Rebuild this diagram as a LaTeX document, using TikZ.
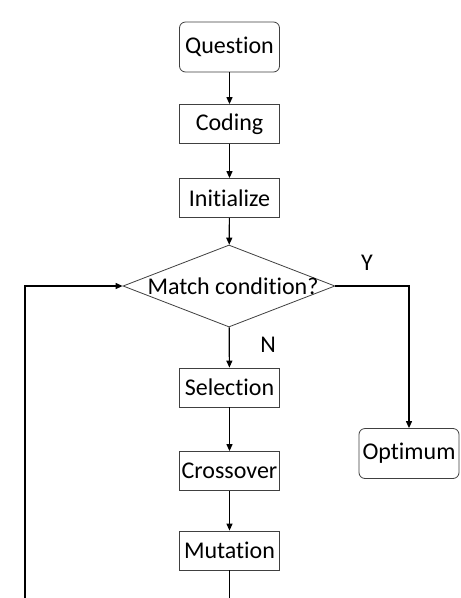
\documentclass[tikz,border=0pt]{standalone}
\usepackage{fontspec}
\setmainfont{Carlito}[Ligatures=NoCommon]
\usetikzlibrary{shapes.geometric,arrows.meta}
\begin{document}
\begin{tikzpicture}[x=1pt,y=-1pt,
  txt/.style={font=\fontsize{24}{28}\selectfont},
  box/.style={txt,draw=black!75,line width=0.8pt,minimum width=100pt,minimum height=39pt,inner sep=0pt},
  rbox/.style={box,rounded corners=6pt,minimum height=50pt},
  dia/.style={draw=black!75,line width=0.8pt,diamond,shape aspect=2.585,minimum width=212pt,minimum height=82pt,inner sep=0pt},
  ln/.style={line width=1.2pt,black},
  arr/.style={ln,-{Triangle[length=7pt,width=6pt]}}]
\fill[white] (0,0) rectangle (461,598);
\useasboundingbox (0,0) rectangle (461,598);
\node[rbox] (q) at (229.5,47) {Question};
\node[box] (c) at (229.5,124) {Coding};
\node[box] (i) at (229.5,198) {Initialize};
\node[dia,label={[txt,xshift=4pt]center:Match condition?}] (d) at (229,286) {};
\node[box] (s) at (229.5,387.5) {Selection};
\node[box] (x) at (229.5,471) {Crossover};
\node[box] (m) at (229.5,550.5) {Mutation};
\node[rbox] (o) at (409,453.5) {Optimum};
\node[txt] (y) at (367,263) {Y};
\node[txt] (n) at (268,345) {N};
\coordinate (bm) at (229.5,598);
\coordinate (bl) at (25,598);
\draw[arr] (q) -- (c);
\draw[arr] (c) -- (i);
\draw[arr] (i) -- (d);
\draw[arr] (d) -- (s);
\draw[arr] (s) -- (x);
\draw[arr] (x) -- (m);
\draw[ln] (m) -- (bm);
\draw[arr] (bl) |- (d.west);
\draw[arr] (d.east) -| (o.north);
\end{tikzpicture}
\end{document}
